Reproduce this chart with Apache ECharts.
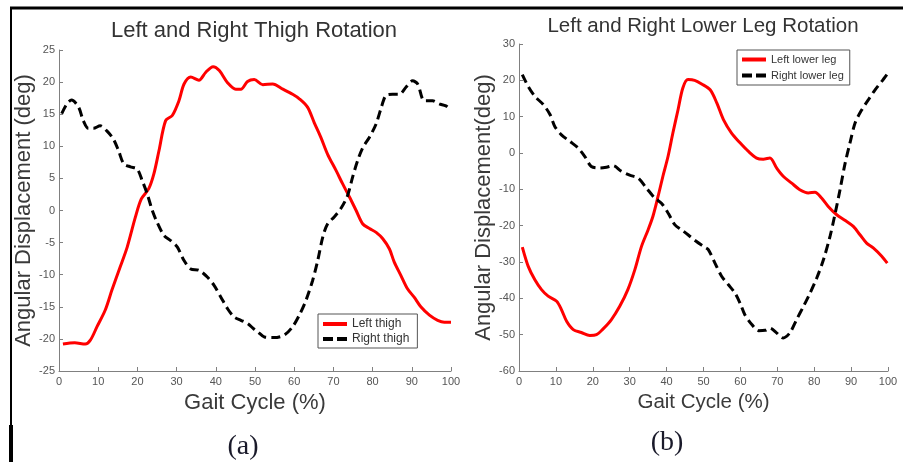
<!DOCTYPE html>
<html><head><meta charset="utf-8">
<script src="https://cdn.jsdelivr.net/npm/echarts@6/dist/echarts.min.js"></script>
<style>html,body{margin:0;padding:0;background:#fff}#c{width:903px;height:462px}</style>
</head><body><div id="c"></div><script>
// Panel (a): thigh rotation
const thighTitle = 'Left and Right Thigh Rotation';
const leftThighX = [1, 4, 6.7, 8, 9.7, 11.8, 13.5, 15.6, 17.4, 19.5, 21, 22.9, 24.2, 25.5, 27.2, 28.9, 30.6, 31.9, 33.6, 35.7, 37.4, 39.3, 40.9, 43, 45.1, 46.4, 48.1, 49.8, 52, 54.5, 57.1, 59.6, 61.3, 63.4, 65.1, 66.8, 68.5, 70.7, 72.4, 74.1, 75.8, 77.5, 79.2, 80.9, 82.6, 84.3, 85.5, 87.2, 88.9, 90.6, 92.3, 94.5, 96.6, 98.3, 100];
const leftThighY = [-20.8, -20.6, -20.8, -20.2, -18.1, -15.5, -12.4, -8.8, -5.7, -1.0, 1.8, 3.4, 5.7, 9.3, 14.0, 14.8, 17.1, 19.7, 20.8, 20.3, 21.5, 22.4, 21.8, 19.9, 18.9, 18.9, 20.1, 20.4, 19.6, 19.7, 18.9, 18.1, 17.4, 16.1, 13.7, 11.4, 8.8, 6.2, 4.1, 2.1, 0, -2.1, -2.8, -3.4, -4.4, -6.0, -8.0, -10.1, -12.2, -13.5, -15.0, -16.3, -17.1, -17.4, -17.4];
const rightThighX = [0.7, 2, 3.2, 5, 6.2, 7.5, 8.8, 10.5, 12.2, 13.9, 15.2, 16.5, 18.2, 19.9, 21.2, 22.5, 23.8, 25, 26.8, 28.5, 30.2, 31.9, 33.6, 35.7, 37.9, 39.6, 41.3, 43, 44.7, 46.4, 48.1, 49.8, 50.7, 52.4, 54.9, 57.5, 59.6, 61.3, 63, 64.7, 66, 67.3, 68.5, 70.2, 71.9, 73.6, 74.9, 76.2, 77.5, 79.2, 80.9, 82.1, 83.4, 85.1, 86.8, 88.5, 90.2, 91.5, 93.2, 95.3, 97, 98.7, 100];
const rightThighY = [15.1, 16.6, 17.2, 16.1, 14, 12.8, 12.8, 13.2, 12.4, 11.1, 9.3, 7.3, 6.8, 6.5, 4.7, 2.6, 0, -1.8, -3.9, -4.7, -5.7, -7.8, -9.1, -9.3, -10.4, -11.7, -13.5, -15.3, -16.6, -17.1, -17.6, -18.5, -18.9, -19.7, -19.8, -19.4, -18.1, -16.3, -14, -10.9, -7.8, -4.1, -2.1, -1.0, 0.3, 2.3, 5.2, 7.8, 9.8, 11.4, 13.5, 15.8, 17.9, 18.1, 18.1, 19.2, 20.2, 19.7, 17.1, 17.1, 16.6, 16.3, 15.6];

// Panel (b): lower leg rotation
const legTitle = 'Left and Right Lower Leg Rotation';
const leftLegX = [0.9, 2.5, 4.3, 6.1, 7.9, 10.2, 11.5, 12.9, 14.7, 16.9, 19.2, 21, 22.8, 25, 27.3, 29.5, 31.4, 33.2, 35, 36.3, 37.7, 39, 40.4, 41.7, 43.1, 44.4, 45.8, 47.6, 49.5, 51.8, 53.6, 55.4, 57.6, 59.9, 62.1, 64.4, 66.2, 68, 69.8, 71.6, 73.9, 76.1, 78.4, 80.2, 82, 83.8, 86.1, 88.3, 90.6, 92.4, 94.2, 96, 98.3, 99.8];
const leftLegY = [-25.9, -31.2, -34.9, -37.6, -39.4, -40.8, -43.1, -46.3, -48.6, -49.4, -50.2, -50, -48.4, -45.9, -42.2, -37.6, -32.1, -25.7, -21.1, -17.4, -11.9, -6.4, -0.9, 5.5, 11.9, 17.9, 20.2, 20, 19.0, 17.4, 13.8, 9.2, 5.5, 2.8, 0.5, -1.4, -1.7, -1.4, -4.1, -6.4, -8.3, -10.1, -11, -10.8, -12.4, -14.7, -17, -18.5, -20.2, -22.5, -24.8, -26.1, -28.4, -30.3];
const rightLegX = [0.9, 2.5, 4.3, 6.6, 8.4, 9.7, 11.5, 13.8, 16, 17.8, 19.6, 21.9, 23.7, 25.5, 27.7, 30, 32.3, 34.5, 36.8, 38.6, 40.4, 42.2, 44, 45.8, 48, 50.3, 51.3, 53.1, 54.9, 56.7, 58.5, 59.9, 61.2, 63.1, 64.9, 66.7, 68, 69.8, 71.6, 73.4, 75.2, 77.1, 78.9, 80.7, 82.5, 84.3, 85.6, 87, 88.3, 89.7, 91.1, 92.9, 94.7, 96.5, 98.3, 99.7];
const rightLegY = [21.6, 18.3, 15.6, 13.3, 10.6, 7.3, 5, 3.2, 1.4, -0.9, -3.7, -4.1, -3.9, -3.5, -5, -6.1, -6.9, -9.6, -12.4, -13.8, -16.5, -19.7, -21.1, -22.5, -24.3, -25.9, -26.6, -30.3, -33.9, -36.2, -38.5, -41.3, -44.5, -47.2, -48.9, -48.8, -48.2, -49.5, -50.9, -49.5, -45.9, -42.2, -38.5, -34.4, -29.4, -22.9, -17, -10.1, -3.2, 2.8, 8.3, 11.9, 14.7, 17.4, 19.7, 21.6];

const xTicks = [0, 100, 10];
const thighTicks = [-25, 25, 5];
const legTicks = [-60, 30, 10];

const pairs = (xs, ys) => xs.map((x, i) => [x, ys[i]]);
const FONT = 'Liberation Sans, Arial, sans-serif';
const axisGray = '#808080';
const labelGray = '#555';
const RED_ICON = 'rect';
const DASH_ICON = 'path://M0,0h10v4h-10zM14,0h10v4h-10z';

function xAxis(gridIndex, fs) {
  return {
    type: 'value', gridIndex, min: xTicks[0], max: xTicks[1], interval: xTicks[2],
    name: 'Gait Cycle (%)', nameLocation: 'middle', nameGap: 19,
    nameTextStyle: { fontFamily: FONT, fontSize: fs, color: '#3a3a3a' },
    axisLine: { show: true, onZero: false, lineStyle: { color: axisGray, width: 1 } },
    axisTick: { show: true, inside: true, length: 4, lineStyle: { color: axisGray } },
    axisLabel: { color: labelGray, fontFamily: FONT, fontSize: 11, margin: 5 },
    splitLine: { show: false }
  };
}
function yAxis(gridIndex, ticks, name, gap) {
  return {
    type: 'value', gridIndex, min: ticks[0], max: ticks[1], interval: ticks[2],
    name, nameLocation: 'middle', nameGap: gap, nameRotate: 90,
    nameTextStyle: { fontFamily: FONT, fontSize: 22, color: '#3a3a3a' },
    axisLine: { show: true, onZero: false, lineStyle: { color: axisGray, width: 1 } },
    axisTick: { show: true, inside: true, length: 4, lineStyle: { color: axisGray } },
    axisLabel: { color: labelGray, fontFamily: FONT, fontSize: 11, margin: 4 },
    splitLine: { show: false }
  };
}
const redStyle = { color: '#ff0000', width: 3 };
const blackStyle = { color: '#000000', width: 3, type: [9, 5] };
function line(name, xi, yi, data, style) {
  return {
    name, type: 'line', xAxisIndex: xi, yAxisIndex: yi, data, symbol: 'none',
    smooth: 0.3, lineStyle: style, itemStyle: { color: style.color }, animation: false
  };
}
function legend(names, left, top, pad, fs, gap) {
  return {
    data: [{ name: names[0], icon: RED_ICON }, { name: names[1], icon: DASH_ICON }],
    orient: 'vertical', left, top, itemWidth: 24, itemHeight: 4, itemGap: gap,
    padding: pad, borderColor: '#555', borderWidth: 1, backgroundColor: '#fff',
    textStyle: { fontFamily: FONT, fontSize: fs, color: '#333' },
    selectedMode: false
  };
}

const chart = echarts.init(document.getElementById('c'), null, { renderer: 'canvas' });
chart.setOption({
  backgroundColor: '#fff',
  animation: false,
  title: [
    { text: thighTitle, left: 249, top: 15, textAlign: 'center',
      textStyle: { fontFamily: FONT, fontSize: 22, fontWeight: 'normal', color: '#333' } },
    { text: legTitle, left: 698, top: 11, textAlign: 'center',
      textStyle: { fontFamily: FONT, fontSize: 20.5, fontWeight: 'normal', color: '#333' } },
    { text: '(a)', left: 238, top: 428, textAlign: 'center',
      textStyle: { fontFamily: 'Liberation Serif, serif', fontSize: 28, fontWeight: 'normal', color: '#1a1a2a' } },
    { text: '(b)', left: 662, top: 424, textAlign: 'center',
      textStyle: { fontFamily: 'Liberation Serif, serif', fontSize: 28, fontWeight: 'normal', color: '#1a1a2a' } }
  ],
  grid: [
    { left: 59, top: 50, width: 392, height: 321 },
    { left: 519, top: 44, width: 369, height: 327 }
  ],
  xAxis: [xAxis(0, 22), xAxis(1, 20.5)],
  yAxis: [
    yAxis(0, thighTicks, 'Angular Displacement (deg)', 21),
    yAxis(1, legTicks, 'Angular Displacement(deg)', 23)
  ],
  legend: [
    legend(['Left thigh', 'Right thigh'], 318, 314, [4, 8, 3, 5], 12, 3),
    legend(['Left lower leg', 'Right lower leg'], 737, 50, [4, 6, 4, 5], 11, 5)
  ],
  series: [
    line('Left thigh', 0, 0, pairs(leftThighX, leftThighY), redStyle),
    line('Right thigh', 0, 0, pairs(rightThighX, rightThighY), blackStyle),
    line('Left lower leg', 1, 1, pairs(leftLegX, leftLegY), redStyle),
    line('Right lower leg', 1, 1, pairs(rightLegX, rightLegY), blackStyle)
  ],
  graphic: [
    { type: 'line', shape: { x1: 10, y1: 8, x2: 903, y2: 8 }, style: { stroke: '#000', lineWidth: 3 } },
    { type: 'line', shape: { x1: 11, y1: 7, x2: 11, y2: 462 }, style: { stroke: '#000', lineWidth: 2 } },
    { type: 'line', shape: { x1: 11, y1: 425, x2: 11, y2: 462 }, style: { stroke: '#000', lineWidth: 4 } }
  ]
});
</script></body></html>
